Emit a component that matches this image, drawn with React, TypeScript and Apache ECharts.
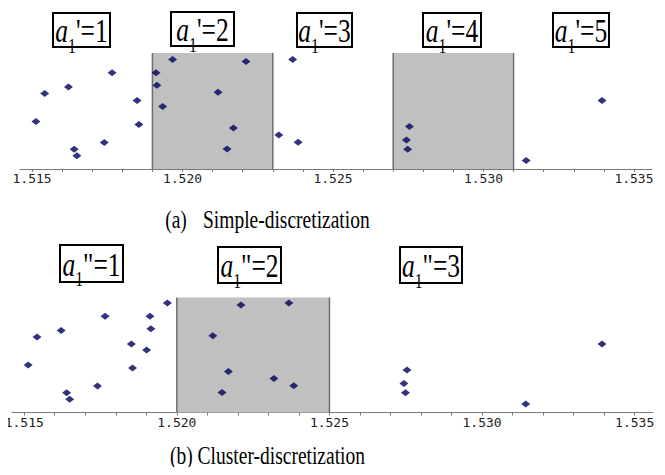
import React, { useEffect, useRef } from "react";
import * as echarts from "echarts";

// x axis (refractive index)
const majorTicks = [1.515, 1.52, 1.525, 1.53, 1.535];
const minorTicks = [
  1.515, 1.516, 1.517, 1.518, 1.519, 1.52, 1.521, 1.522, 1.523, 1.524, 1.525,
  1.526, 1.527, 1.528, 1.529, 1.53, 1.531, 1.532, 1.533, 1.534, 1.535,
];

// data values (a1) for simple and cluster views, plus vertical spread
const xSimple = [
  1.51513, 1.51542, 1.51621, 1.5164, 1.51649, 1.5174, 1.51766, 1.51849, 1.51855,
  1.51912, 1.51915, 1.51934, 1.51967, 1.52118, 1.52148, 1.52169, 1.52211,
  1.5232, 1.52366, 1.52384, 1.52754, 1.52744, 1.52748, 1.53142, 1.53394,
];
const xCluster = [
  1.51513, 1.51542, 1.51621, 1.51639, 1.51649, 1.5174, 1.51765, 1.51851, 1.51855,
  1.51912, 1.51915, 1.51901, 1.51969, 1.52118, 1.52148, 1.52169, 1.5221,
  1.52318, 1.52367, 1.52383, 1.52754, 1.52744, 1.52749, 1.53143, 1.53393,
];
const spread = [
  47.6, 75.5, 82, 19.8, 13.2, 26.6, 96.2, 68.5, 44.5, 96.2, 83.8, 62.5, 109.5,
  76.8, 20, 41, 107.5, 34, 109.5, 26.8, 42.5, 29, 19.8, 8.6, 68.5,
];

// shaded intervals
const simpleBins = [
  [1.519, 1.523],
  [1.527, 1.531],
];
const clusterBins = [[1.52, 1.525]];

// interval labels
const simpleLabels = ["1", "2", "3", "4", "5"];
const clusterLabels = ["1", "2", "3"];

const X_MIN = 1.5146;
const X_MAX = 1.5356;
const Y_MAX = [116, 115];
const SERIF = "Liberation Serif";

function xAxisFor(gridIndex: number) {
  return {
    type: "value",
    gridIndex,
    min: X_MIN,
    max: X_MAX,
    splitLine: { show: false },
    axisLine: { lineStyle: { color: "#7a7a7a", width: 1 } },
    axisTick: {
      customValues: minorTicks,
      length: 3,
      lineStyle: { color: "#7a7a7a" },
    },
    axisLabel: {
      customValues: majorTicks,
      formatter: (v: number) => v.toFixed(3),
      fontFamily: "DejaVu Sans Mono",
      fontSize: 13,
      color: "#222",
      margin: 3,
    },
  };
}

function bgSeries(gridIndex: number, bins: number[][]) {
  const out: any[] = [
    {
      type: "scatter",
      xAxisIndex: gridIndex,
      yAxisIndex: gridIndex,
      data: [],
      z: 1,
      silent: true,
      markArea: {
        silent: true,
        itemStyle: { color: "#c0c0c0" },
        data: bins.map((b) => [{ xAxis: b[0] }, { xAxis: b[1] }]),
      },
    },
  ];
  bins.forEach((b) =>
    b.forEach((e) =>
      out.push({
        type: "line",
        xAxisIndex: gridIndex,
        yAxisIndex: gridIndex,
        data: [
          [e, 0],
          [e, Y_MAX[gridIndex]],
        ],
        symbol: "none",
        silent: true,
        z: 2,
        lineStyle: { color: "#6e6e6e", width: 1.5 },
      })
    )
  );
  return out;
}

function labelBox(
  x: number,
  y: number,
  w: number,
  h: number,
  prime: string,
  num: string
) {
  return {
    type: "group",
    x,
    y,
    children: [
      {
        type: "rect",
        shape: { x: 0, y: 0, width: w, height: h },
        style: { fill: "rgba(255,255,255,0)", stroke: "#000", lineWidth: 2 },
      },
      {
        type: "text",
        x: w / 2,
        y: h / 2 + 1,
        scaleX: 0.75,
        style: {
          text: `{a|a}{s|1}{n|${prime}=${num}}`,
          align: "center",
          verticalAlign: "middle",
          rich: {
            a: {
              fontFamily: SERIF,
              fontStyle: "italic",
              fontSize: 34,
              lineHeight: 34,
              fill: "#000",
              verticalAlign: "bottom",
            },
            s: {
              fontFamily: SERIF,
              fontSize: 21,
              lineHeight: 26,
              fill: "#000",
              verticalAlign: "bottom",
              padding: [0, 0, -8, 0],
            },
            n: {
              fontFamily: SERIF,
              fontSize: 34,
              lineHeight: 34,
              fill: "#000",
              verticalAlign: "bottom",
            },
          },
        },
      },
    ],
  };
}

export default function App() {
  const ref = useRef<HTMLDivElement>(null);

  useEffect(() => {
    if (!ref.current) return;
    const chart = echarts.init(ref.current, null, { renderer: "svg" });

    const simpleBoxes = [
      [53, 13, 57, 34],
      [171, 12, 63, 34],
      [297, 13, 55, 34],
      [423, 13, 58, 34],
      [553, 13, 56, 34],
    ];
    const clusterBoxes = [
      [60, 245, 63, 37],
      [218, 247, 63, 36],
      [400, 247, 62, 36],
    ];

    const graphics: any[] = [];
    simpleBoxes.forEach((b, i) =>
      graphics.push(labelBox(b[0], b[1], b[2], b[3], "'", simpleLabels[i]))
    );
    clusterBoxes.forEach((b, i) =>
      graphics.push(labelBox(b[0], b[1], b[2], b[3], '"', clusterLabels[i]))
    );
    const cap = (text: string, x: number, y: number, align: string) => ({
      type: "text",
      x,
      y,
      scaleX: 0.78,
      style: {
        text,
        fontFamily: SERIF,
        fontSize: 25,
        fill: "#000",
        align,
        verticalAlign: "middle",
      },
    });
    graphics.push(
      cap("(a)", 176, 220, "center"),
      cap("Simple-discretization", 203, 220, "left"),
      cap("(b) Cluster-discretization", 267.5, 456, "center")
    );

    const pointStyle = {
      symbol: "diamond",
      symbolSize: [9, 7],
      itemStyle: { color: "#00005c" },
      z: 5,
    };

    chart.setOption({
      animation: false,
      backgroundColor: "#fff",
      grid: [
        { left: 20, right: 13, top: 53, height: 116 },
        { left: 12, right: 12, top: 297.5, height: 115 },
      ],
      xAxis: [xAxisFor(0), xAxisFor(1)],
      yAxis: [
        { type: "value", gridIndex: 0, min: 0, max: Y_MAX[0], show: false },
        { type: "value", gridIndex: 1, min: 0, max: Y_MAX[1], show: false },
      ],
      graphic: graphics,
      series: [
        ...bgSeries(0, simpleBins),
        ...bgSeries(1, clusterBins),
        {
          type: "scatter",
          xAxisIndex: 0,
          yAxisIndex: 0,
          data: xSimple.map((x, i) => [x, spread[i]]),
          ...pointStyle,
        },
        {
          type: "scatter",
          xAxisIndex: 1,
          yAxisIndex: 1,
          data: xCluster.map((x, i) => [x, spread[i]]),
          ...pointStyle,
        },
      ],
    });

    return () => chart.dispose();
  }, []);

  return <div ref={ref} style={{ width: 665, height: 475, margin: -8 }} />;
}
